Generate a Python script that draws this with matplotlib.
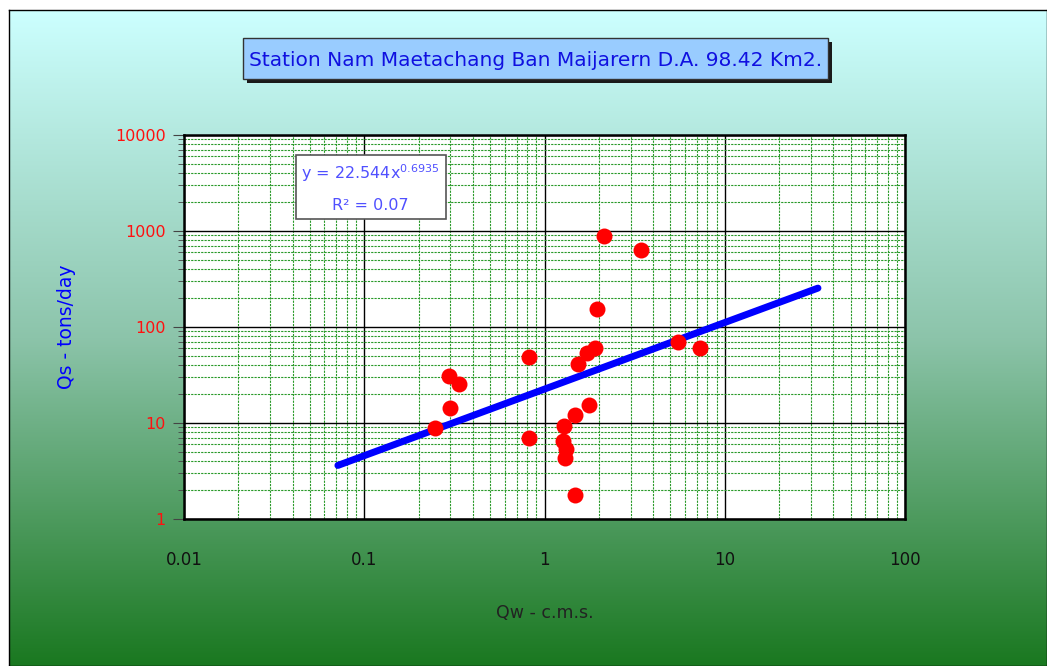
import numpy as np
import matplotlib.pyplot as plt
from matplotlib.patches import Rectangle
from matplotlib.ticker import LogLocator, FixedLocator, NullFormatter

# Data (Qw in c.m.s., Qs in tons/day)
qw = [0.247, 0.295, 0.336, 0.30, 0.82, 0.82, 2.14, 3.43, 1.96, 1.91, 1.72,
      1.53, 5.5, 7.29, 1.77, 1.48, 1.28, 1.26, 1.31, 1.30, 1.48]
qs = [8.9, 30.9, 25.5, 14.3, 48.7, 7.0, 887, 634, 154, 60.4, 53.6,
      41.2, 69.8, 60.4, 15.4, 12.1, 9.3, 6.5, 5.4, 4.3, 1.78]

# power trendline  y = a * x^b
coef_a = 22.544
coef_b = 0.6935
r2 = 0.07
trend_range = [0.0714, 32.9]

xticks = [0.01, 0.1, 1, 10, 100]
xticklabels = ['0.01', '0.1', '1', '10', '100']
yticks = [1, 10, 100, 1000, 10000]
yticklabels = ['1', '10', '100', '1000', '10000']

title = 'Station Nam Maetachang Ban Maijarern D.A. 98.42 Km2.'

W, H = 1047, 666
fig = plt.figure(figsize=(W / 100, H / 100), dpi=100)
fig.patch.set_facecolor('white')

# gradient background panel
bg = fig.add_axes([9 / W, 0, 1 - 9 / W, 1 - 10 / H])
top = np.array([204, 255, 255]) / 255
mid = np.array([140, 196, 170]) / 255
bot = np.array([26, 120, 32]) / 255
t = np.linspace(0, 1, 300)[:, None]
grad = np.where(t < 0.5, top + (mid - top) * (t / 0.5), mid + (bot - mid) * ((t - 0.5) / 0.5))
bg.imshow(grad[:, None, :], aspect='auto', extent=[0, 1, 0, 1])
bg.set_xticks([])
bg.set_yticks([])
for s in bg.spines.values():
    s.set_color('black')
    s.set_linewidth(1)

# title box with shadow
def fx(px):
    return px / W

def fy(py):
    return 1 - py / H

fig.patches.append(Rectangle((fx(247), fy(83)), fx(828) - fx(243), fy(38) - fy(79),
                             transform=fig.transFigure, facecolor='#1a1a1a', edgecolor='none', zorder=2))
fig.patches.append(Rectangle((fx(243), fy(79)), fx(828) - fx(243), fy(38) - fy(79),
                             transform=fig.transFigure, facecolor='#99ccff', edgecolor='#333333',
                             linewidth=1, zorder=3))
fig.text(fx(536), fy(60), title, ha='center', va='center', fontsize=14.5, color='#1010e0', zorder=4)

# main plot
ax = fig.add_axes([184 / W, (H - 519) / H, 721 / W, 384 / H])
ax.set_facecolor('white')
ax.set_xscale('log')
ax.set_yscale('log')
ax.set_xlim(0.01, 100)
ax.set_ylim(1, 10000)

ax.xaxis.set_major_locator(FixedLocator(xticks))
ax.yaxis.set_major_locator(FixedLocator(yticks))
ax.xaxis.set_minor_locator(LogLocator(base=10, subs=np.arange(2, 10), numticks=20))
ax.yaxis.set_minor_locator(LogLocator(base=10, subs=np.arange(2, 10), numticks=20))
ax.xaxis.set_minor_formatter(NullFormatter())
ax.yaxis.set_minor_formatter(NullFormatter())

ax.grid(True, which='major', color='black', linewidth=1)
ax.grid(True, which='minor', color='#2a9a2a', linewidth=0.8, linestyle=(0, (2, 1)))
ax.set_axisbelow(True)

ax.set_xticklabels(xticklabels, fontsize=12, color='#111111')
ax.set_yticklabels(yticklabels, fontsize=11.5, color='#ff1010')
ax.tick_params(axis='x', which='major', length=0, pad=23)
ax.tick_params(axis='x', which='minor', length=0)
ax.tick_params(axis='y', which='major', length=8, color='#444444', pad=5)
ax.tick_params(axis='y', which='minor', length=4, color='#444444')
for s in ax.spines.values():
    s.set_linewidth(1.8)
    s.set_color('black')

xs = np.logspace(np.log10(trend_range[0]), np.log10(trend_range[1]), 100)
ax.plot(xs, coef_a * xs ** coef_b, color='#0000ff', linewidth=5, solid_capstyle='round', zorder=3)
ax.plot(qw, qs, 'o', color='#ff0000', markersize=11.5, markeredgewidth=0, zorder=4)

ax.set_xlabel('Qw - c.m.s.', fontsize=12.5, color='#222222', labelpad=25)
ax.set_ylabel('Qs - tons/day', fontsize=13.5, color='#0000ff', labelpad=28)

# equation box
ax.text(0.259, 0.862, 'y = 22.544x$^{0.6935}$\n\nR² = %.2f' % r2, transform=ax.transAxes,
        ha='center', va='center', multialignment='center', fontsize=11.5, color='#5050ff',
        linespacing=0.95,
        bbox=dict(boxstyle='square,pad=0.35', facecolor='white', edgecolor='#555555', linewidth=1.2),
        zorder=5)

fig.savefig('out.png', dpi=100)
